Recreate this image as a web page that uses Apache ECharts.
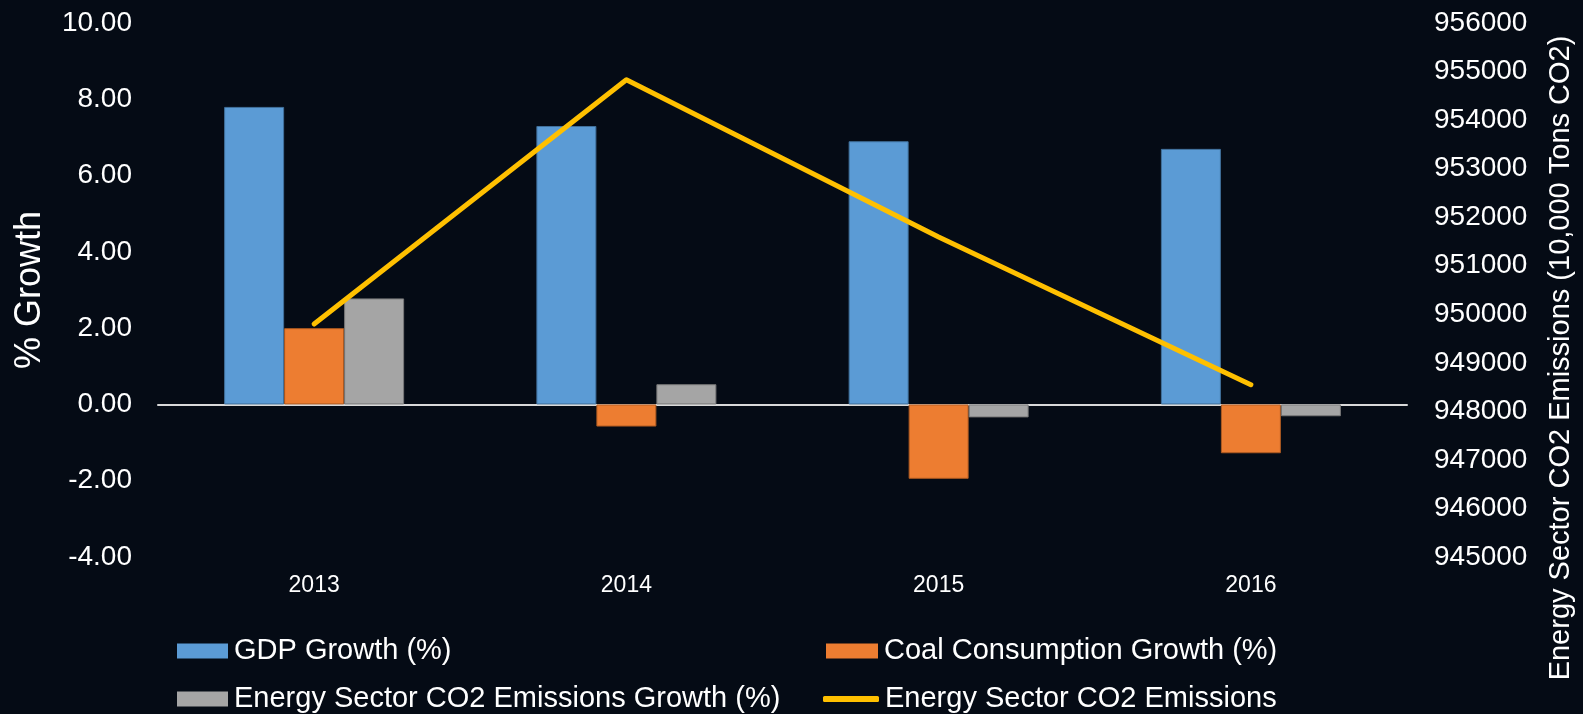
<!DOCTYPE html>
<html>
<head>
<meta charset="utf-8">
<script src="https://cdn.jsdelivr.net/npm/echarts@6/dist/echarts.min.js"></script>
<style>
  html, body { margin: 0; padding: 0; background: #050B15; }
  #chart { width: 1583px; height: 714px; }
</style>
</head>
<body>
<div id="chart"></div>
<script>
const categories = ['2013', '2014', '2015', '2016'];
const gdpGrowth = [7.8, 7.3, 6.9, 6.7];
const coalGrowth = [2.0, -0.58, -1.95, -1.28];
const co2Growth = [2.78, 0.53, -0.34, -0.31];
const co2Emissions = [949800, 954830, 951590, 948550];
const leftTicks = { min: -4, max: 10, interval: 2 };
const rightTicks = { min: 945000, max: 956000, interval: 1000 };

const FONT = "'Liberation Sans', Arial, sans-serif";

const chart = echarts.init(document.getElementById('chart'), null, { renderer: 'canvas' });

function barSeries(name, data, color, border) {
  return {
    name: name,
    type: 'bar',
    yAxisIndex: 0,
    data: data,
    barWidth: 60,
    barGap: '0%',
    itemStyle: { color: color, borderColor: border, borderWidth: 1 },
    emphasis: { disabled: true }
  };
}

function legendItem(name, left, centerY, opts) {
  return Object.assign({
    left: left,
    top: centerY - 15,
    padding: 0,
    itemGap: 0,
    itemWidth: 51,
    itemHeight: 15,
    icon: 'rect',
    selectedMode: false,
    itemStyle: { borderWidth: 0 },
    data: [name],
    textStyle: { color: '#FFFFFF', fontSize: 29, lineHeight: 30, fontFamily: FONT, padding: [0, 0, 0, 1] }
  }, opts || {});
}

chart.setOption({
  backgroundColor: '#050B15',
  animation: false,
  textStyle: { fontFamily: FONT },
  grid: { left: 158, right: 173, top: 23, bottom: 157, containLabel: false },
  legend: [
    legendItem('GDP Growth (%)', 177, 651),
    legendItem('Energy Sector CO2 Emissions Growth (%)', 177, 699),
    legendItem('Coal Consumption Growth (%)', 826, 651, { itemWidth: 52 }),
    legendItem('Energy Sector CO2 Emissions', 823, 699, { itemWidth: 56, itemHeight: 6, icon: 'roundRect' })
  ],
  xAxis: {
    type: 'category',
    data: categories,
    axisLine: { show: true, onZero: true, lineStyle: { color: '#D9D9D9', width: 2 } },
    axisTick: { show: false },
    axisLabel: { color: '#FFFFFF', fontSize: 23, margin: 17, fontFamily: FONT },
    splitLine: { show: false }
  },
  yAxis: [
    {
      type: 'value',
      min: leftTicks.min,
      max: leftTicks.max,
      interval: leftTicks.interval,
      name: '% Growth',
      nameLocation: 'middle',
      nameGap: 110,
      nameRotate: 90,
      nameTextStyle: { color: '#FFFFFF', fontSize: 36, fontFamily: FONT },
      axisLine: { show: false },
      axisTick: { show: false },
      splitLine: { show: false },
      axisLabel: {
        color: '#FFFFFF', fontSize: 28, margin: 26, fontFamily: FONT,
        formatter: v => v.toFixed(2)
      }
    },
    {
      type: 'value',
      position: 'right',
      min: rightTicks.min,
      max: rightTicks.max,
      interval: rightTicks.interval,
      name: 'Energy Sector CO2 Emissions (10,000 Tons CO2)',
      nameLocation: 'middle',
      nameGap: 139,
      nameRotate: 90,
      nameTextStyle: { color: '#FFFFFF', fontSize: 29, fontFamily: FONT, padding: [0, 136, 0, 0] },
      axisLine: { show: false },
      axisTick: { show: false },
      splitLine: { show: false },
      axisLabel: {
        color: '#FFFFFF', fontSize: 28, margin: 27, fontFamily: FONT,
        formatter: v => String(v)
      }
    }
  ],
  series: [
    barSeries('GDP Growth (%)', gdpGrowth, '#5B9BD5', '#41719C'),
    barSeries('Coal Consumption Growth (%)', coalGrowth, '#ED7D31', '#AE5A21'),
    barSeries('Energy Sector CO2 Emissions Growth (%)', co2Growth, '#A5A5A5', '#787878'),
    {
      name: 'Energy Sector CO2 Emissions',
      type: 'line',
      yAxisIndex: 1,
      data: co2Emissions,
      showSymbol: false,
      symbol: 'none',
      lineStyle: { color: '#FFC000', width: 5, cap: 'round', join: 'round' },
      itemStyle: { color: '#FFC000' },
      z: 5,
      emphasis: { disabled: true }
    }
  ]
});
</script>
</body>
</html>
